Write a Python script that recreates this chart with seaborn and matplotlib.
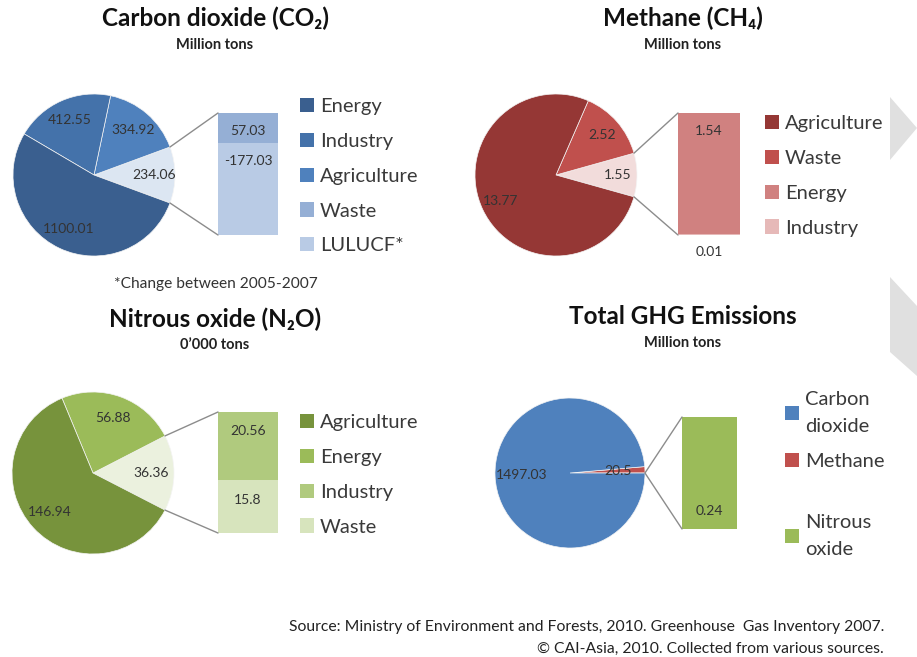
import numpy as np
import matplotlib
matplotlib.use("Agg")
import matplotlib.pyplot as plt
from matplotlib.patches import Patch, Polygon, ConnectionPatch
import seaborn as sns

# ---- data ----
co2_main_labels = ["Energy", "Industry", "Agriculture"]
co2_main_values = [1100.01, 412.55, 334.92]
co2_bar_labels = ["Waste", "LULUCF*"]
co2_bar_values = [57.03, -177.03]

ch4_main_labels = ["Agriculture", "Waste"]
ch4_main_values = [13.77, 2.52]
ch4_bar_labels = ["Energy", "Industry"]
ch4_bar_values = [1.54, 0.01]

n2o_main_labels = ["Agriculture", "Energy"]
n2o_main_values = [146.94, 56.88]
n2o_bar_labels = ["Industry", "Waste"]
n2o_bar_values = [20.56, 15.8]

ghg_main_labels = ["Carbon\ndioxide", "Methane"]
ghg_main_values = [1497.03, 20.5]
ghg_bar_labels = ["Nitrous\noxide"]
ghg_bar_values = [0.24]

# colours
co2_main_colors = ["#3A5F8F", "#4472AA", "#4F81BD"]
co2_other_color = "#DCE6F2"
co2_bar_colors = ["#95AFD5", "#B9CBE5"]
ch4_main_colors = ["#953735", "#C0504D"]
ch4_other_color = "#F2DCDB"
ch4_bar_colors = ["#D08180", "#E6B9B8"]
n2o_main_colors = ["#77933C", "#9BBB59"]
n2o_other_color = "#EBF1DE"
n2o_bar_colors = ["#B0CA7E", "#D7E4BD"]
ghg_main_colors = ["#4F81BD", "#C0504D"]
ghg_other_color = "#9BBB59"
ghg_bar_colors = ["#9BBB59"]

sns.set_theme(style="white")
plt.rcParams["font.family"] = ["Lato", "DejaVu Sans"]

W, H = 917, 657
fig = plt.figure(figsize=(W / 100, H / 100), dpi=100)
fig.patch.set_facecolor("white")


def px_box(x0, y0, x1, y1):
    # pixel box (top-left origin) -> figure fraction rect
    return [x0 / W, 1 - y1 / H, (x1 - x0) / W, (y1 - y0) / H]


def panel(cx, cy, r, bar_box, main_vals, main_cols, other_col, bar_vals, bar_cols,
          labeldist, show_other_label=True):
    ax = fig.add_axes(px_box(cx - r, cy - r, cx + r, cy + r))
    other = float(np.sum(np.abs(bar_vals)))
    total = sum(main_vals) + other
    vals = [other] + list(main_vals[::-1])
    cols = [other_col] + list(main_cols[::-1])
    labs = [f"{other:g}" if show_other_label else ""] + [f"{v:g}" for v in main_vals[::-1]]
    start = -other / total * 180
    wedges, texts = ax.pie(vals, colors=cols, startangle=start, radius=1,
                           labels=labs, labeldistance=labeldist,
                           wedgeprops=dict(linewidth=0.5, edgecolor="#F4F4F4"))
    for t in texts:
        t.set_ha("center")
        t.set_va("center")
        t.set_fontsize(10)
        t.set_color("#333333")
    ax.set_xlim(-1, 1)
    ax.set_ylim(-1, 1)
    ax.set_aspect("equal")
    ax.axis("off")

    bx = fig.add_axes(px_box(*bar_box))
    heights = np.abs(bar_vals)
    bottom = 0
    tops = []
    for v, c in zip(heights[::-1], bar_cols[::-1]):
        bx.bar(0, v, bottom=bottom, width=1, color=c, linewidth=0)
        bottom += v
        tops.append(bottom)
    bx.set_xlim(-0.5, 0.5)
    bx.set_ylim(0, other)
    bx.axis("off")

    # connector lines from the pie slice to the bar corners
    a = np.deg2rad(start)
    for sgn, yb in [(1, other), (-1, 0)]:
        con = ConnectionPatch(xyA=(np.cos(a), sgn * np.sin(-a)), coordsA=ax.transData,
                              xyB=(-0.5, yb), coordsB=bx.transData,
                              color="#8C8C8C", linewidth=1.0)
        fig.add_artist(con)
    return ax, bx, tops[::-1]


def seg_label(bx, y, text, dy=-13):
    bx.annotate(text, (0, y), xytext=(0, dy), textcoords="offset points",
                ha="center", va="center", fontsize=10, color="#333333",
                annotation_clip=False)


def legend(labels, colors, x, y, spacing=0.88, linespacing=None):
    handles = [Patch(facecolor=c, edgecolor="none") for c in colors]
    leg = fig.legend(handles, labels, loc="upper left", bbox_to_anchor=(x / W, 1 - y / H),
                     frameon=False, fontsize=14.5, borderpad=0, borderaxespad=0,
                     handlelength=0.7, handleheight=0.7, handletextpad=0.3,
                     labelspacing=spacing, labelcolor="#3A3A3A")
    if linespacing:
        for t in leg.get_texts():
            t.set_linespacing(linespacing)
    return leg


def titles(x, y, title, sub, ysub):
    fig.text(x / W, 1 - y / H, title, ha="center", va="center",
             fontsize=17.5, fontweight="bold", color="#111111")
    fig.text(x / W, 1 - ysub / H, sub, ha="center", va="center",
             fontsize=10.5, fontweight="bold", color="#222222")


# ---- Carbon dioxide ----
titles(215, 18, "Carbon dioxide (CO\u2082)", "Million tons", 45)
ax, bx, tops = panel(94, 175, 81, (218, 113, 278, 235), co2_main_values, co2_main_colors,
                     co2_other_color, co2_bar_values, co2_bar_colors, 0.74)
for t, v in zip(tops, co2_bar_values):
    seg_label(bx, t, f"{v:g}")
legend(co2_main_labels + co2_bar_labels, co2_main_colors + co2_bar_colors, 300, 98)
fig.text(216 / W, 1 - 284 / H, "*Change between 2005-2007", ha="center", va="center",
         fontsize=11.2, color="#333333")

# ---- Methane ----
titles(683, 18, "Methane (CH\u2084)", "Million tons", 45)
ax, bx, tops = panel(556, 175, 81, (678, 113, 740, 235), ch4_main_values, ch4_main_colors,
                     ch4_other_color, ch4_bar_values, ch4_bar_colors, 0.76)
seg_label(bx, tops[0], f"{ch4_bar_values[0]:g}")
seg_label(bx, 0, f"{ch4_bar_values[1]:g}", dy=-12)
legend(ch4_main_labels + ch4_bar_labels, ch4_main_colors + ch4_bar_colors, 765, 115)

# ---- Nitrous oxide ----
titles(215, 319, "Nitrous oxide (N\u2082O)", "0\u2019000 tons", 345)
ax, bx, tops = panel(93, 473, 81, (218, 412, 278, 533), n2o_main_values, n2o_main_colors,
                     n2o_other_color, n2o_bar_values, n2o_bar_colors, 0.72)
for t, v in zip(tops, n2o_bar_values):
    seg_label(bx, t, f"{v:g}", dy=-14)
legend(n2o_main_labels + n2o_bar_labels, n2o_main_colors + n2o_bar_colors, 300, 414)

# ---- Total GHG ----
titles(683, 316, "Total GHG Emissions", "Million tons", 343)
ax, bx, tops = panel(570, 473, 75, (682, 417, 737, 529), ghg_main_values, ghg_main_colors,
                     ghg_other_color, ghg_bar_values, ghg_bar_colors, 0.64,
                     show_other_label=False)
seg_label(bx, 0, f"{ghg_bar_values[0]:g}", dy=13)
legend(ghg_main_labels, ghg_main_colors, 785, 391, spacing=0.9, linespacing=1.7)
legend(ghg_bar_labels, ghg_bar_colors, 785, 514, linespacing=1.7)

# ---- source ----
fig.text(884 / W, 1 - 627 / H,
         "Source: Ministry of Environment and Forests, 2010. Greenhouse  Gas Inventory 2007.",
         ha="right", va="center", fontsize=11.3, color="#222222")
fig.text(884 / W, 1 - 649 / H, "\u00a9 CAI-Asia, 2010. Collected from various sources.",
         ha="right", va="center", fontsize=11.3, color="#222222")

# decorative slide chevrons on the right edge
for pts in [[(890, 97), (917, 128), (890, 160)],
            [(890, 277), (917, 306), (917, 376), (890, 352)]]:
    fig.add_artist(Polygon([(x / W, 1 - y / H) for x, y in pts], closed=True,
                           transform=fig.transFigure, facecolor="#E0E0E0",
                           edgecolor="none"))

fig.savefig("out.png", dpi=100)
